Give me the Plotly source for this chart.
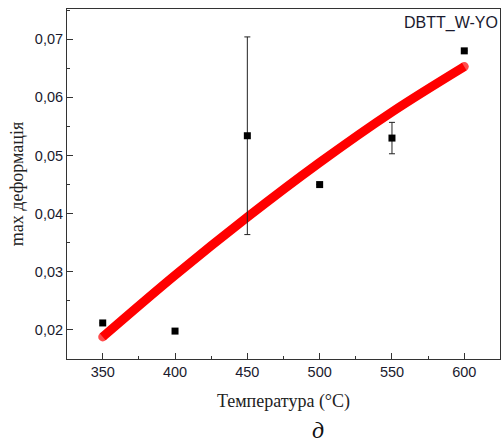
import plotly.graph_objects as go

# measured points
temp = [350, 400, 450, 500, 550, 600]
strain = [0.0212, 0.0198, 0.0534, 0.0450, 0.0530, 0.0680]
strain_err = [0, 0, 0.0170, 0, 0.0027, 0]

# fitted curve
fit_temp = [350, 400, 450, 500, 550, 600]
fit_strain = [0.0188, 0.0294, 0.0394, 0.0488, 0.0575, 0.0653]

series_label = "DBTT_W-YO"
x_title = "Температура (°C)"
y_title = "max деформація"
panel_label = "д"

fig = go.Figure()

fig.add_trace(go.Scatter(
    x=fit_temp, y=fit_strain, mode="lines+markers",
    line=dict(color="#ff0000", width=9, shape="spline", smoothing=1.0),
    marker=dict(color="#ff0000", size=[9, 0, 0, 0, 0, 9], line=dict(width=0)),
    showlegend=False, hoverinfo="skip",
))

fig.add_trace(go.Scatter(
    x=temp, y=strain, mode="markers",
    marker=dict(symbol="square", color="black", size=7),
    error_y=dict(type="data", array=strain_err, visible=True,
                 color="#222222", thickness=1, width=3),
    showlegend=False,
))

axis_common = dict(
    showline=True, linecolor="#333333", linewidth=1, mirror=True,
    ticks="inside", tickcolor="#333333", ticklen=6, tickwidth=1,
    showgrid=False, zeroline=False,
    tickfont=dict(family="Liberation Sans, Arial", size=14.5, color="#1a1a2e"),
)

fig.update_layout(
    width=501, height=446,
    margin=dict(l=67, r=1, t=9, b=87),
    paper_bgcolor="white", plot_bgcolor="white",
    separators=", ",
    xaxis=dict(
        range=[325.3, 624.7], tick0=350, dtick=50,
        minor=dict(ticks="inside", ticklen=3, tickcolor="#333333", dtick=25, tick0=350),
        title=dict(text=x_title, standoff=14,
                   font=dict(family="Liberation Serif, Times New Roman", size=18, color="#222222")),
        **axis_common,
    ),
    yaxis=dict(
        range=[0.0150, 0.0752], tick0=0.02, dtick=0.01, tickformat=".2f",
        minor=dict(ticks="inside", ticklen=3, tickcolor="#333333", dtick=0.005, tick0=0.02),
        title=dict(text=y_title, standoff=6,
                   font=dict(family="Liberation Serif, Times New Roman", size=18, color="#222222")),
        **axis_common,
    ),
    annotations=[
        dict(text=series_label, xref="paper", yref="paper", x=1.0, y=0.96,
             xanchor="right", yanchor="middle", showarrow=False,
             font=dict(family="Liberation Sans, Arial", size=16, color="#1a1a2e")),
        dict(text="<i>" + panel_label + "</i>", xref="paper", yref="paper",
             x=(318 - 67) / 433, y=-(430 - 359) / 350,
             xanchor="center", yanchor="middle", showarrow=False,
             font=dict(family="Liberation Serif, Times New Roman", size=24, color="#111111")),
    ],
)

fig.write_html("out.html", config={"displayModeBar": False},
               post_script="document.body.style.margin='0px';")
